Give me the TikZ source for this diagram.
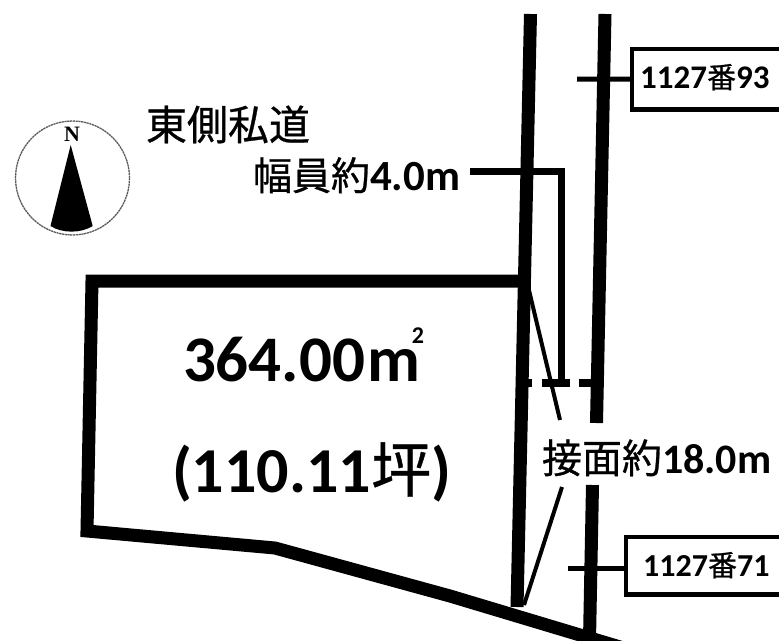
\documentclass[tikz,border=0pt]{standalone}
\usepackage{fontspec}
\setmainfont{Carlito}
\newfontfamily\cjkjp[RawFeature={embolden=0.7}]{Noto Sans CJK JP}
\newfontfamily\serifn{Liberation Serif}
\newcommand{\cj}[1]{{\cjkjp\mdseries #1}}
\newcommand{\fs}[1]{\fontsize{#1}{#1}\selectfont}
\tikzset{
  heavyline/.style={line width=13pt,line cap=butt,line join=miter},
  leaderline/.style={line width=7pt,line join=miter},
  thinleader/.style={line width=4pt},
  tickline/.style={line width=5pt},
  boxline/.style={line width=4.5pt,line join=miter},
  label/.style={inner sep=0pt,outer sep=0pt,anchor=base west,font=\bfseries},
  parcelbox/.style={minimum height=60pt,minimum width=147pt,inner sep=0pt,anchor=north west},
}
\begin{document}
\begin{tikzpicture}[x=1pt,y=-1pt]
\useasboundingbox (0,0) rectangle (779,640);
% compass
\draw[gray!70!black,line width=1.3pt,dash pattern=on 2.2pt off .6pt] (72.5,178) circle[radius=57];
\fill[black] (70.7,145) -- (50.5,226) .. controls (62,233.5) and (81,233.5) .. (92.7,226) -- cycle;
\node[inner sep=0pt] (north) at (72,134.5) {\serifn\bfseries\fs{22}N};
% road edges
\draw[heavyline] (530.5,14) -- (517,607);
\draw[heavyline] (605,14) -- (596.5,423);
\draw[heavyline] (592.5,485) -- (589.5,640);
% lot
\draw[heavyline] (524,281) -- (92,281) -- (87,531) -- (275,548) -- (450,596) -- (640,653);
% dashed road limit
\draw[line width=8pt] (524,383) -- (532,383);
\draw[line width=8pt] (542,383) -- (570,383);
\draw[line width=8pt] (579,383) -- (601,383);
% labels
\node[label] (east) at (146,140) {\fs{41}\cj{東側私道}};
\node[label] (width) at (253,190) {\fs{39}\cj{幅員約}\fs{43}4.0m};
\coordinate (widthend) at (470,171);
\coordinate (widthbend) at (561,171);
\coordinate (widthfoot) at (561,383);
\draw[leaderline] (widthend) -- (widthbend) -- (widthfoot);
\node[label] (area) at (183,381) {\fs{65}364.00\kern2pt m};
\node[inner sep=0pt] (sq) at (418,336) {\bfseries\fs{24}2};
\node[label] (tsubo) at (172,492) {\fs{64}(110.11\cj{\fs{60}坪})};
\node[label] (front) at (542,473) {\fs{40}\cj{接面約}\fs{42}18.0m};
\coordinate (frontA) at (527,282);
\coordinate (frontB) at (560,420);
\coordinate (frontC) at (562,487);
\coordinate (frontD) at (524,605);
\draw[thinleader] (frontA) -- (frontB);
\draw[thinleader] (frontC) -- (frontD);
% parcel boxes
\node[parcelbox] (p93) at (632,49) {};
\node[inner sep=0pt,anchor=base west] (t93) at (640,88) {\bfseries\fs{33}1127\cj{\fs{29}番}93};
\draw[boxline] (p93.north east) -- (p93.north west) -- (p93.south west) -- (p93.south east);
\coordinate (tick93) at (577,79);
\draw[tickline] (tick93) -- (p93.west);
\node[parcelbox,minimum height=57pt,minimum width=153pt] (p71) at (626,537) {};
\node[inner sep=0pt,anchor=base west] (t71) at (643,576) {\bfseries\fs{32}1127\cj{\fs{29}番}71};
\draw[boxline] (p71.north east) -- (p71.north west) -- (p71.south west) -- (p71.south east);
\coordinate (tick71) at (568,568);
\draw[tickline] (tick71) -- (tick71 -| p71.west);
\end{tikzpicture}
\end{document}
